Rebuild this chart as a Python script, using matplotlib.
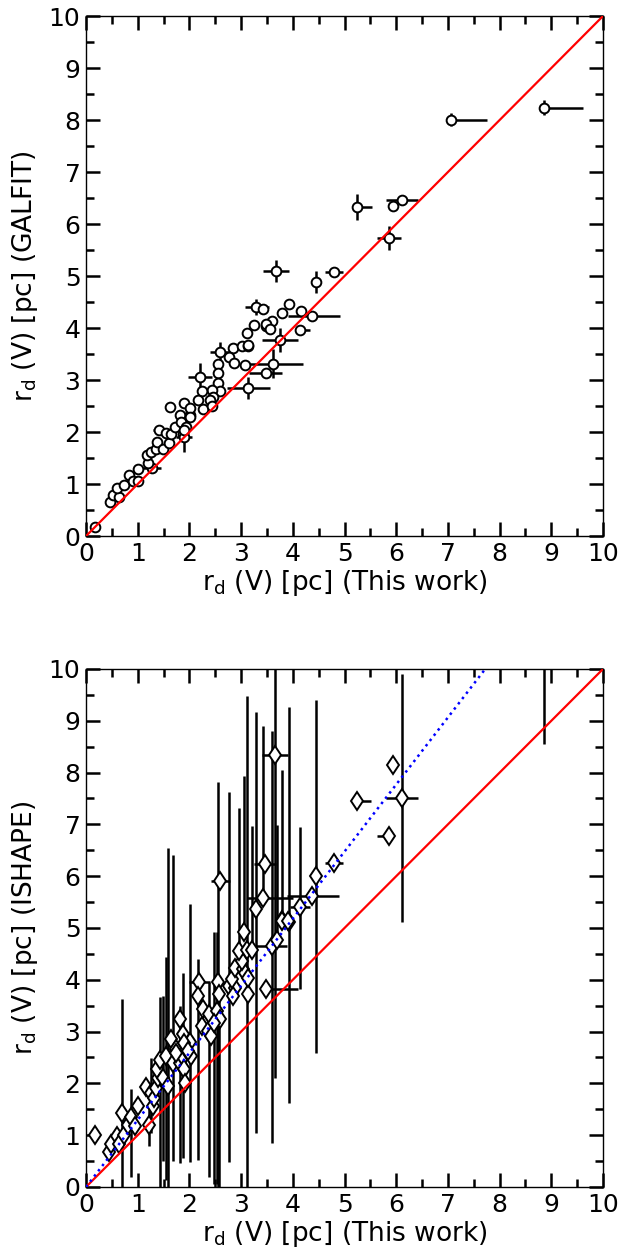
import matplotlib
matplotlib.use("Agg")
import matplotlib.pyplot as plt
from matplotlib.ticker import MultipleLocator

# ---- GALFIT comparison (top panel) ----
gal_x = [0.17, 0.46, 0.52, 0.64, 0.60, 0.74, 0.84, 0.90, 1.00, 1.00,
         1.28, 1.19, 1.17, 1.26, 1.35, 1.37, 1.41, 1.55, 1.48, 1.60,
         1.62, 1.64, 1.73, 1.81, 1.84, 1.87, 1.90, 1.93, 2.01, 1.90,
         2.01, 2.02, 1.90, 2.21, 2.59, 2.56, 2.56, 2.56, 2.59, 2.43,
         2.46, 2.40, 2.25, 2.17, 2.27, 2.43, 2.85, 3.01, 3.14, 2.77,
         2.86, 3.08, 3.11, 3.24, 3.49, 3.28, 3.43, 3.80, 4.16, 4.38,
         3.59, 3.48, 3.56, 4.14, 3.75, 3.14, 3.62, 3.48, 3.14, 3.93,
         3.67, 4.45, 4.80, 5.25, 5.94, 6.11, 5.86, 7.05, 8.85]
gal_y = [0.18, 0.66, 0.79, 0.76, 0.93, 0.98, 1.17, 1.05, 1.05, 1.29,
         1.30, 1.41, 1.56, 1.62, 1.67, 1.80, 2.04, 1.99, 1.68, 1.78,
         2.48, 1.97, 2.10, 2.33, 2.20, 1.97, 1.91, 2.10, 2.33, 2.56,
         2.46, 2.29, 2.04, 3.05, 3.53, 3.30, 3.13, 2.94, 2.79, 2.81,
         2.68, 2.62, 2.78, 2.62, 2.44, 2.50, 3.61, 3.65, 3.65, 3.44,
         3.32, 3.29, 3.91, 4.06, 4.03, 4.40, 4.36, 4.28, 4.33, 4.23,
         4.13, 4.08, 3.98, 3.97, 3.77, 3.67, 3.31, 3.14, 2.84, 4.46,
         5.10, 4.88, 5.08, 6.32, 6.35, 6.47, 5.73, 8.01, 8.24]
gal_xlo = [0.05] * 10 + [0.17, 0.05, 0.05, 0.05, 0.05, 0.05, 0.12, 0.05, 0.05, 0.05] \
    + [0.05] * 6 + [0.15, 0.05, 0.05, 0.05] \
    + [0.05] * 3 + [0.23, 0.19, 0.05, 0.05, 0.05, 0.05, 0.05] \
    + [0.05] * 10 \
    + [0.05] * 5 + [0.20, 0.05, 0.05, 0.05, 0.48] \
    + [0.05, 0.05, 0.05, 0.05, 0.35, 0.05, 0.51, 0.32, 0.42, 0.05] \
    + [0.25, 0.05, 0.17, 0.05, 0.05, 0.31, 0.24, 0.05, 0.05]
gal_xhi = [0.05] * 10 + [0.17, 0.05, 0.05, 0.05, 0.05, 0.05, 0.12, 0.05, 0.05, 0.05] \
    + [0.05] * 6 + [0.15, 0.05, 0.05, 0.05] \
    + [0.05] * 3 + [0.23, 0.19, 0.05, 0.05, 0.05, 0.05, 0.05] \
    + [0.05] * 10 \
    + [0.05] * 5 + [0.25, 0.05, 0.05, 0.05, 0.53] \
    + [0.05, 0.05, 0.05, 0.20, 0.35, 0.05, 0.58, 0.32, 0.42, 0.05] \
    + [0.25, 0.05, 0.17, 0.28, 0.10, 0.31, 0.24, 0.71, 0.76]
gal_yerr = [0.05] * 10 + [0.08, 0.05, 0.05, 0.05, 0.05, 0.05, 0.10, 0.05, 0.05, 0.05] \
    + [0.05] * 6 + [0.30, 0.05, 0.05, 0.05] \
    + [0.05] * 3 + [0.27, 0.20, 0.05, 0.05, 0.05, 0.05, 0.05] \
    + [0.05] * 10 \
    + [0.05] * 5 + [0.15, 0.05, 0.05, 0.05, 0.08] \
    + [0.05, 0.05, 0.05, 0.05, 0.23, 0.05, 0.28, 0.10, 0.21, 0.05] \
    + [0.21, 0.21, 0.05, 0.25, 0.08, 0.05, 0.23, 0.12, 0.15]

# ---- ISHAPE comparison (bottom panel) ----
ish_x = [0.18, 0.44, 0.48, 0.59, 0.64, 0.70, 0.74, 0.82, 0.87, 0.95,
         1.00, 1.16, 1.22, 1.26, 1.29, 1.32, 1.35, 1.39, 1.37, 1.43,
         1.48, 1.55, 1.59, 1.64, 1.69, 1.74, 1.81, 1.82, 1.87, 1.88,
         1.90, 1.92, 1.93, 2.01, 2.03, 1.90, 1.98, 1.75, 2.24, 2.35,
         2.41, 2.27, 2.37, 2.53, 2.59, 2.48, 2.19, 2.17, 2.56, 2.58,
         2.77, 2.88, 2.85, 3.14, 3.48, 2.82, 2.88, 3.04, 3.07, 3.14,
         3.01, 2.96, 3.11, 3.22, 3.06, 3.29, 3.43, 2.60, 3.66, 5.94,
         6.12, 5.24, 5.86, 3.46, 4.37, 4.45, 4.80, 4.14, 3.80, 3.93,
         3.59, 3.70, 3.79, 3.90, 8.85]
ish_y = [1.00, 0.68, 0.83, 0.99, 0.83, 1.43, 1.01, 1.20, 1.35, 1.17,
         1.56, 1.93, 1.20, 1.81, 1.57, 1.72, 1.91, 2.11, 2.27, 2.46,
         2.11, 2.53, 1.94, 2.85, 2.40, 2.66, 3.24, 2.40, 2.50, 2.95,
         2.27, 2.01, 2.66, 2.79, 2.53, 2.78, 2.62, 2.59, 3.11, 3.01,
         2.91, 3.43, 3.34, 3.40, 3.25, 3.16, 3.95, 3.69, 3.95, 3.72,
         3.88, 3.85, 3.69, 3.72, 3.82, 4.02, 4.22, 4.21, 4.14, 4.03,
         4.37, 4.56, 4.58, 4.58, 4.92, 5.36, 5.57, 5.90, 8.34, 8.15,
         7.50, 7.46, 6.78, 6.23, 5.61, 6.00, 6.26, 5.40, 5.16, 5.12,
         4.66, 4.77, 5.14, 5.14, 11.00]
ish_xlo = [0.05] * 46 + [0.20, 0.05, 0.05, 0.05] \
    + [0.05] * 4 + [0.11, 0.05, 0.05, 0.05, 0.05, 0.05] \
    + [0.05] * 6 + [0.32, 0.19, 0.25, 0.05] \
    + [0.31, 0.05, 0.24, 0.22, 0.48, 0.05, 0.17, 0.20, 0.05, 0.05] \
    + [0.30, 0.05, 0.05, 0.05, 0.05]
ish_xhi = [0.05] * 46 + [0.20, 0.05, 0.05, 0.05] \
    + [0.05] * 4 + [0.62, 0.05, 0.05, 0.05, 0.05, 0.05] \
    + [0.05] * 6 + [0.58, 0.19, 0.25, 0.10] \
    + [0.31, 0.28, 0.05, 0.22, 0.53, 0.05, 0.17, 0.20, 0.05, 0.05] \
    + [0.30, 0.05, 0.05, 0.05, 0.76]
ish_ylo = [0.05, 0.05, 0.05, 0.05, 0.05, 1.43, 0.05, 0.05, 1.16, 0.05,
           0.05, 0.05, 0.40, 0.77, 0.05, 0.05, 0.05, 0.05, 0.05, 2.46,
           1.60, 2.39, 1.94, 0.05, 1.90, 0.05, 0.05, 1.94, 0.05, 2.40,
           0.05, 0.05, 0.05, 2.30, 0.05, 0.05, 0.05, 0.05, 0.05, 0.05,
           0.05, 0.05, 3.14, 3.35, 0.05, 3.10, 0.05, 3.17, 3.95, 3.72,
           3.40, 0.05, 0.05, 0.05, 0.05, 0.05, 0.05, 0.05, 0.05, 0.05,
           0.05, 0.05, 4.58, 0.05, 0.05, 4.32, 0.05, 0.05, 6.24, 0.05,
           2.39, 0.05, 0.05, 0.05, 0.05, 3.41, 0.05, 1.58, 0.05, 3.50,
           3.81, 0.05, 0.05, 0.05, 2.45]
ish_yhi = [0.05, 0.05, 0.05, 0.05, 0.05, 2.19, 0.05, 0.05, 0.54, 0.05,
           0.05, 0.05, 0.40, 0.68, 0.05, 0.05, 0.05, 0.05, 0.05, 1.20,
           1.58, 1.90, 4.60, 0.05, 4.00, 0.05, 0.05, 1.09, 0.05, 1.19,
           0.05, 0.05, 0.05, 2.68, 0.05, 0.05, 0.05, 0.05, 0.05, 0.05,
           0.05, 0.05, 0.61, 1.52, 0.05, 1.76, 0.05, 0.71, 3.87, 0.05,
           3.74, 0.05, 0.05, 0.05, 0.05, 0.05, 0.05, 0.05, 0.05, 0.05,
           0.05, 2.75, 4.89, 2.39, 3.02, 3.81, 3.32, 0.05, 3.00, 0.05,
           2.40, 0.05, 0.05, 0.05, 0.05, 3.40, 0.05, 1.55, 2.89, 4.14,
           4.15, 2.21, 0.05, 0.05, 0.05]

# slope of the dotted fit line in the ISHAPE panel
ish_slope = 1.295

AX_LIM = (0, 10)


def style_axes(ax):
    ax.set_xlim(*AX_LIM)
    ax.set_ylim(*AX_LIM)
    ax.xaxis.set_major_locator(MultipleLocator(1))
    ax.yaxis.set_major_locator(MultipleLocator(1))
    ax.xaxis.set_minor_locator(MultipleLocator(0.5))
    ax.yaxis.set_minor_locator(MultipleLocator(0.5))
    ax.tick_params(which="both", direction="in", top=True, right=True,
                   width=1.8, labelsize=18)
    ax.tick_params(which="major", length=10)
    ax.tick_params(which="minor", length=6)
    ax.tick_params(axis="x", pad=4)
    ax.tick_params(axis="y", pad=4)
    for sp in ax.spines.values():
        sp.set_linewidth(1.0)
    ax.set_xlabel(r"r$_{\rm d}$ (V) [pc] (This work)", fontsize=19, labelpad=2)


fig = plt.figure(figsize=(6.22, 12.53), dpi=100)
ax1 = fig.add_axes([0.1383, 0.5722, 0.8312, 0.415])
ax2 = fig.add_axes([0.1383, 0.0527, 0.8312, 0.4134])

ax1.errorbar(gal_x, gal_y, xerr=[gal_xlo, gal_xhi], yerr=gal_yerr,
             fmt="o", ms=7, mfc="white", mec="black", mew=1.4,
             ecolor="black", elinewidth=1.8, capsize=0, zorder=3)
ax1.plot(AX_LIM, AX_LIM, color="red", lw=1.6, zorder=5)
style_axes(ax1)
ax1.set_ylabel(r"r$_{\rm d}$ (V) [pc] (GALFIT)", fontsize=19, labelpad=6)

ax2.errorbar(ish_x, ish_y, xerr=[ish_xlo, ish_xhi], yerr=[ish_ylo, ish_yhi],
             fmt="d", ms=9.5, mfc="white", mec="black", mew=1.4,
             ecolor="black", elinewidth=1.8, capsize=0, zorder=3)
ax2.plot(AX_LIM, AX_LIM, color="red", lw=1.6, zorder=5)
ax2.plot([0, AX_LIM[1] / ish_slope], AX_LIM, color="blue", ls=":", lw=1.8, zorder=5)
style_axes(ax2)
ax2.set_ylabel(r"r$_{\rm d}$ (V) [pc] (ISHAPE)", fontsize=19, labelpad=6)

fig.savefig("out.png", dpi=100)
